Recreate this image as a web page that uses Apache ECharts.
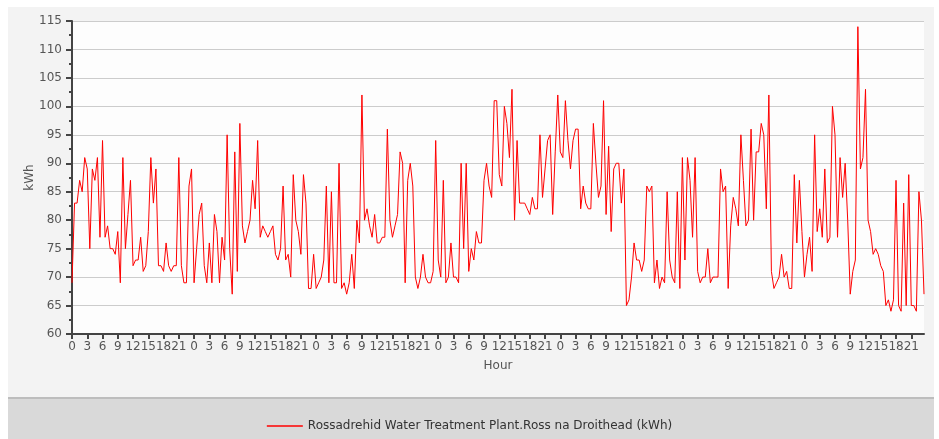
<!DOCTYPE html>
<html>
<head>
<meta charset="utf-8">
<script src="https://cdn.jsdelivr.net/npm/echarts@6/dist/echarts.min.js"></script>
<style>html,body{margin:0;padding:0;background:#fff}#c{width:939px;height:439px}</style>
</head>
<body>
<div id="c"></div>
<script>
// Half-hourly readings over 7 days (336 points), kWh
const values = [
69,83,83,87,85,91,89,75,89,87,
91,77,94,77,79,75,75,74,78,69,
91,75,81,87,72,73,73,77,71,72,
78,91,83,89,72,72,71,76,72,71,
72,72,91,72,69,69,86,89,69,75,
81,83,72,69,76,69,81,78,69,77,
73,95,75,67,92,71,97,79,76,78,
80,87,82,94,77,79,78,77,78,79,
74,73,75,86,73,74,70,88,80,78,
74,88,83,68,68,74,68,69,70,73,
86,69,85,69,69,90,68,69,67,69,
74,68,80,76,102,80,82,79,77,81,
76,76,77,77,96,80,77,79,81,92,
90,69,87,90,86,70,68,70,74,70,
69,69,71,94,73,70,87,69,70,76,
70,70,69,90,75,90,71,75,73,78,
76,76,87,90,86,84,101,101,88,86,
100,97,91,103,80,94,83,83,83,82,
81,84,82,82,95,84,89,94,95,81,
92,102,92,91,101,94,89,94,96,96,
82,86,83,82,82,97,90,84,86,101,
81,93,78,89,90,90,83,89,65,66,
70,76,73,73,71,73,86,85,86,69,
73,68,70,69,85,73,70,69,85,68,
91,73,91,87,77,91,71,69,70,70,
75,69,70,70,70,89,85,86,68,79,
84,82,79,95,87,79,80,96,80,92,
92,97,95,82,102,71,68,69,70,74,
70,71,68,68,88,76,87,78,70,74,
77,71,95,78,82,77,89,76,77,100,
95,77,91,84,90,80,67,71,73,114,
89,91,103,80,78,74,75,74,72,71,
65,66,64,66,87,65,64,83,65,88,
65,65,64,85,80,67
];
// Hour-of-day label for each half-hour slot
const hours = values.map((v, i) => String(Math.floor(i / 2) % 24));
const seriesName = 'Rossadrehid Water Treatment Plant.Ross na Droithead (kWh)';
const yTitle = 'kWh';
const xTitle = 'Hour';

const chart = echarts.init(document.getElementById('c'), null, {renderer: 'canvas'});
const font = 'DejaVu Sans';
chart.setOption({
  animation: false,
  backgroundColor: '#ffffff',
  textStyle: {fontFamily: font},
  graphic: [
    {type: 'rect', z: -10, shape: {x: 8, y: 7, width: 926, height: 390}, style: {fill: '#f3f3f3'}},
    {type: 'rect', z: -10, shape: {x: 8, y: 397, width: 926, height: 2}, style: {fill: '#bdbdbd'}},
    {type: 'rect', z: -10, shape: {x: 8, y: 399, width: 926, height: 40}, style: {fill: '#d9d9d9'}}
  ],
  grid: {left: 72, right: 15, top: 21, bottom: 105, show: true, backgroundColor: '#fdfdfd', borderWidth: 0, containLabel: false},
  legend: {
    data: [seriesName], bottom: 2, left: 'center',
    icon: 'rect', itemWidth: 36, itemHeight: 1.5, itemGap: 6,
    textStyle: {fontFamily: font, fontSize: 12, color: '#333'}
  },
  xAxis: {
    type: 'category', data: hours, boundaryGap: false,
    name: xTitle, nameLocation: 'middle', nameGap: 26,
    nameTextStyle: {fontFamily: font, fontSize: 12, color: '#555'},
    axisLine: {lineStyle: {color: '#444', width: 2}},
    axisTick: {interval: 5, length: 5, lineStyle: {color: '#444', width: 2}},
    axisLabel: {interval: 5, fontFamily: font, fontSize: 12, color: '#555', margin: 7},
    splitLine: {show: false}
  },
  yAxis: {
    type: 'value', min: 60, max: 115, interval: 5,
    name: yTitle, nameLocation: 'middle', nameGap: 36, nameMoveOverlap: false,
    nameTextStyle: {fontFamily: font, fontSize: 12, color: '#555'},
    axisLine: {show: true, lineStyle: {color: '#444', width: 2}},
    axisTick: {show: true, length: 6, lineStyle: {color: '#444', width: 2}},
    minorTick: {show: true, splitNumber: 2, length: 3, lineStyle: {color: '#444', width: 2}},
    axisLabel: {fontFamily: font, fontSize: 12, color: '#555', margin: 10},
    splitLine: {lineStyle: {color: '#cccccc', width: 1}}
  },
  series: [{
    name: seriesName, type: 'line', data: values,
    showSymbol: false, symbol: 'none',
    lineStyle: {color: '#ff0000', width: 1},
    itemStyle: {color: '#ff0000'}
  }]
});
</script>
</body>
</html>
